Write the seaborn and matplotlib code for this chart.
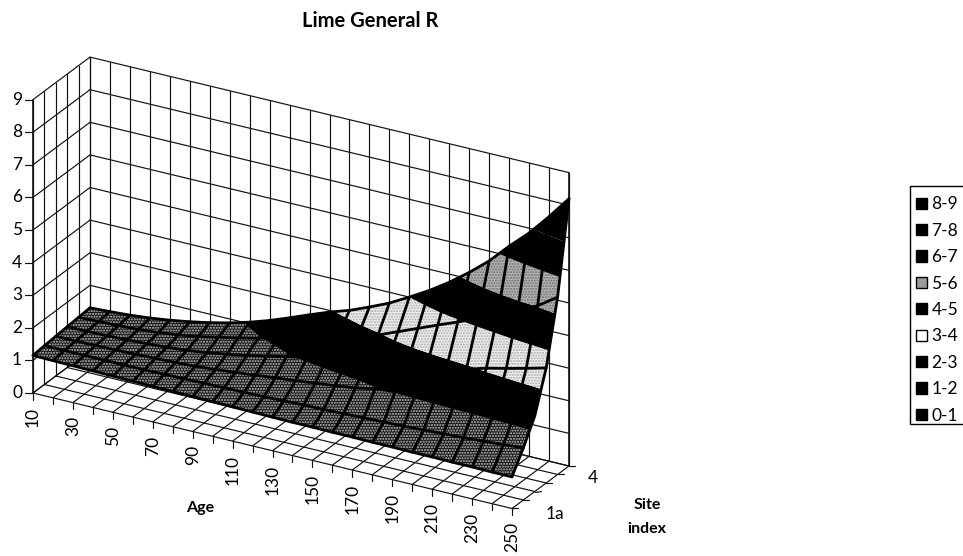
import numpy as np
import matplotlib
matplotlib.use("Agg")
import matplotlib.pyplot as plt
import seaborn as sns
from matplotlib.axes import Axes
from matplotlib.colors import to_rgba
from matplotlib.patches import Patch, Rectangle
from mpl_toolkits.mplot3d import proj3d
from mpl_toolkits.mplot3d.art3d import Poly3DCollection, Line3DCollection

ages = [10, 20, 30, 40, 50, 60, 70, 80, 90, 100, 110, 120, 130, 140, 150, 160, 170, 180, 190, 200, 210, 220, 230, 240, 250]
age_labels = [10, 30, 50, 70, 90, 110, 130, 150, 170, 190, 210, 230, 250]
value_ticks = [0, 1, 2, 3, 4, 5, 6, 7, 8, 9]
site_positions = [0, 1, 2, 3, 4, 5]
site_label_pos = [1, 5]
site_label_txt = ["1a", "4"]
legend_labels = ["8-9", "7-8", "6-7", "5-6", "4-5", "3-4", "2-3", "1-2", "0-1"]

site_0 = [1.15, 1.14, 1.13, 1.12, 1.11, 1.10, 1.09, 1.08, 1.07, 1.06, 1.05, 1.04, 1.03, 1.02, 1.02, 1.01, 1.01, 1.00, 1.00, 0.99, 0.99, 0.98, 0.98, 0.97, 0.97]
site_1 = [1.19, 1.19, 1.19, 1.19, 1.19, 1.19, 1.20, 1.21, 1.22, 1.23, 1.24, 1.25, 1.27, 1.29, 1.30, 1.32, 1.34, 1.36, 1.38, 1.41, 1.44, 1.47, 1.51, 1.55, 1.60]
site_2 = [1.22, 1.22, 1.23, 1.24, 1.26, 1.28, 1.30, 1.33, 1.38, 1.44, 1.50, 1.57, 1.63, 1.70, 1.77, 1.85, 1.97, 2.03, 2.08, 2.12, 2.16, 2.19, 2.22, 2.26, 2.32]
site_3 = [1.25, 1.26, 1.27, 1.29, 1.32, 1.36, 1.41, 1.49, 1.59, 1.70, 1.82, 1.96, 2.07, 2.17, 2.27, 2.37, 2.47, 2.57, 2.67, 2.78, 2.90, 3.08, 3.22, 3.37, 3.53]
site_4 = [1.28, 1.30, 1.32, 1.35, 1.40, 1.48, 1.57, 1.70, 1.83, 1.97, 2.12, 2.28, 2.45, 2.62, 2.78, 2.95, 3.20, 3.45, 3.70, 3.94, 4.20, 4.45, 4.75, 5.03, 5.44]
site_5 = [1.31, 1.34, 1.38, 1.44, 1.52, 1.62, 1.74, 1.88, 2.05, 2.25, 2.48, 2.72, 2.95, 3.15, 3.40, 3.67, 4.00, 4.35, 4.75, 5.20, 5.70, 6.30, 6.85, 7.50, 8.20]

sns.set_theme(style="white")
plt.rcParams["font.family"] = ["Lato", "DejaVu Sans"]
W, H = 963, 556
fig = plt.figure(figsize=(W / 100, H / 100), dpi=100, facecolor="white")
ax = fig.add_axes([0, 0, 1, 1], projection="3d")
ax.apply_aspect = lambda position=None: None
ax.set_axis_off()
ax.computed_zorder = False

# Oblique chart projection of (age, site, value), expressed in the axes' 2D coordinates
px_age = (512.0 - 33.0) / 240
py_age = (508.5 - 393.0) / 240
px_site = 57.0 / 5
py_site = -42.5 / 5
py_val = -32.6
inv = ax.transData.inverted()
o = inv.transform((0, H))
e = inv.transform((W, 0))
su, sv = (e[0] - o[0]) / W, (e[1] - o[1]) / H
M = np.array([
    [su * px_age, su * px_site, 0, o[0] + su * (33 - 10 * px_age)],
    [sv * py_age, sv * py_site, sv * py_val, o[1] + sv * (393 - 10 * py_age)],
    [0, 0.1, 0, -0.25],
    [0, 0, 0, 1.0],
])
ax.get_proj = lambda: M
ax.M = M

LW = 0.85
C = "#111111"
amin, amax = ages[0], ages[-1]
smin, smax = site_positions[0], site_positions[-1]
zmax = value_ticks[-1]


def lines(segs, lw=LW, zo=1, color=C):
    coll = Line3DCollection(segs, colors=color, linewidths=lw, zorder=zo, capstyle="round")
    ax.add_collection3d(coll, autolim=False)


def label(a, s, v, txt, **kw):
    u, w, _ = proj3d.proj_transform(a, s, v, M)
    Axes.text(ax, float(u), float(w), txt, color="black", zorder=6, **kw)


wall = []
for a in ages:
    wall.append([(a, smax, 0), (a, smax, zmax)])
    wall.append([(a, smin, 0), (a, smax, 0)])
    wall.append([(a, smin, 0), (a, smin, -0.2)])
for s in site_positions:
    wall.append([(amin, s, 0), (amin, s, zmax)])
    wall.append([(amin, s, 0), (amax, s, 0)])
    wall.append([(amax, s, 0), (amax + 3, s, 3 * py_age / 32.6)])
for v in value_ticks:
    wall.append([(amin, smax, v), (amax, smax, v)])
    wall.append([(amin, smin, v), (amin, smax, v)])
    wall.append([(amin, smin, v), (amin - 4, smin, v - 4 * py_age / 32.6)])
lines(wall)
lines([[(amin, smin, 0), (amin, smin, zmax)], [(amax, smax, 0), (amax, smax, zmax)]], lw=1.2)

# surface, split into value bands
Z = np.array([site_0, site_1, site_2, site_3, site_4, site_5])
A = np.array(ages, float)
S = np.array(site_positions, float)


def clip(poly, lo, hi):
    def half(pts, keep, cross):
        out = []
        for i in range(len(pts)):
            p, q = pts[i], pts[(i + 1) % len(pts)]
            kp, kq = keep(p[2]), keep(q[2])
            if kp:
                out.append(p)
            if kp != kq:
                t = (cross - p[2]) / (q[2] - p[2])
                out.append(tuple(p[k] + t * (q[k] - p[k]) for k in range(3)))
        return out
    pts = half(poly, lambda z: z >= lo, lo)
    if pts:
        pts = half(pts, lambda z: z <= hi, hi)
    return pts


band_style = {
    0: ("#141414", "......", "#c4c4c4"),
    1: ("#141414", "......", "#c4c4c4"),
    2: ("#000000", None, None),
    3: ("#f0f0f0", "......", "#a8a8a8"),
    4: ("#000000", None, None),
    5: ("#b4b4b4", "......", "#6e6e6e"),
    6: ("#000000", None, None),
    7: ("#000000", None, None),
    8: ("#000000", None, None),
}
for lo in range(9):
    polys = []
    for i in range(len(S) - 1):
        for j in range(len(A) - 1):
            quad = [(A[j], S[i], Z[i, j]), (A[j + 1], S[i], Z[i, j + 1]),
                    (A[j + 1], S[i + 1], Z[i + 1, j + 1]), (A[j], S[i + 1], Z[i + 1, j])]
            c = clip(quad, lo, lo + 1)
            if len(c) >= 3:
                polys.append(c)
    if not polys:
        continue
    face, hatch, hcol = band_style[lo]
    coll = Poly3DCollection(polys, facecolor=face, edgecolor="none", linewidths=0, zorder=3)
    if hatch:
        coll.set_hatch(hatch)
        coll._hatch_color = to_rgba(hcol)
    ax.add_collection3d(coll, autolim=False)

# surface wires
wires = [list(zip(A, np.full_like(A, S[i]), Z[i])) for i in range(len(S))]
wires += [list(zip(np.full_like(S, A[j]), S, Z[:, j])) for j in range(len(A))]
lines(wires, lw=2.0, zo=4, color="black")

# texts
fs = 12.5
for a in age_labels:
    label(a, smin, -0.42, str(a), rotation=90, ha="center", va="top", fontsize=fs)
for v in value_ticks:
    label(amin - 8, smin, v - 8 * py_age / 32.6, str(v), ha="center", va="center", fontsize=fs)
for s, t, d in zip(site_label_pos, site_label_txt, [16, 12]):
    label(amax + d, s, -0.2, t, ha="center", va="center", fontsize=fs)

fig.text(370 / W, 1 - 21 / H, "Lime General R", ha="center", va="center", fontsize=14.5, fontweight="bold", color="black")
fig.text(200 / W, 1 - 508 / H, "Age", ha="center", va="center", fontsize=11.5, fontweight="bold", color="black")
fig.text(647 / W, 1 - 505 / H, "Site", ha="center", va="center", fontsize=11.5, fontweight="bold", color="black")
fig.text(647 / W, 1 - 529 / H, "index", ha="center", va="center", fontsize=11.5, fontweight="bold", color="black")

colors = {"5-6": "#9a9a9a", "3-4": "white"}
handles = [Patch(facecolor=colors.get(l, "black"), edgecolor="black", linewidth=1.0, label=l) for l in legend_labels]
fig.add_artist(Rectangle((910 / W, 1 - 424 / H), 70 / W, 238 / H, transform=fig.transFigure,
                         facecolor="white", edgecolor="black", linewidth=1.0))
leg = fig.legend(handles=handles, loc="upper left", bbox_to_anchor=(909 / W, 1 - 189 / H), fontsize=fs,
                 frameon=False, borderpad=0.42, handlelength=0.62, handleheight=0.62, handletextpad=0.25,
                 labelspacing=0.6, borderaxespad=0, labelcolor="black")
fig.savefig("out.png", dpi=100, facecolor="white")
